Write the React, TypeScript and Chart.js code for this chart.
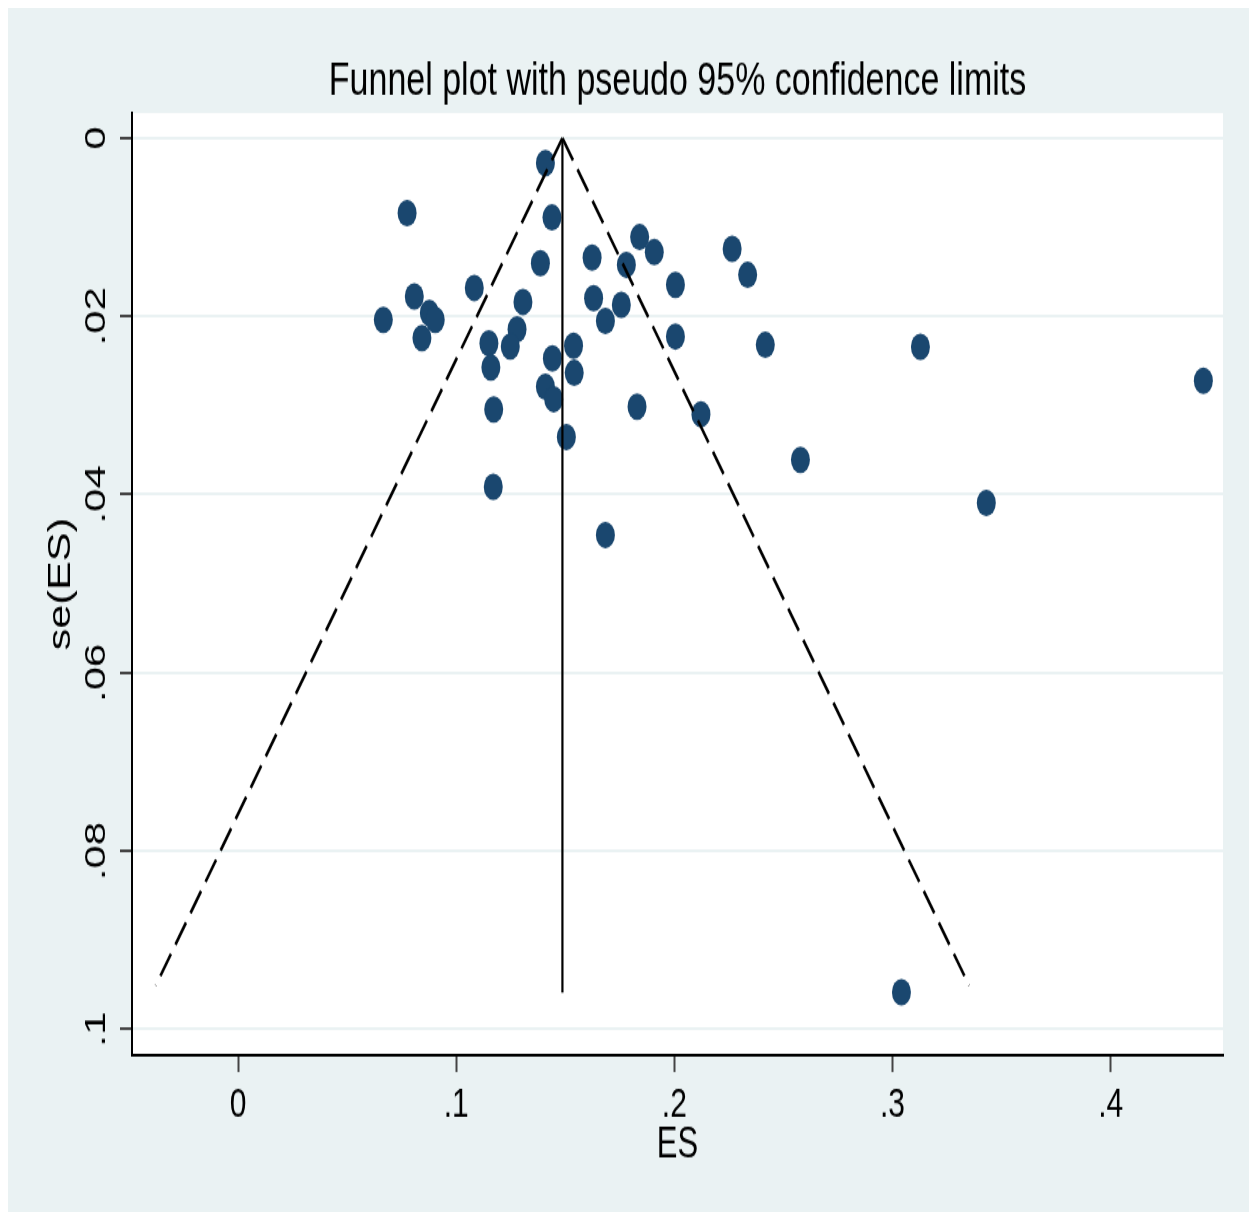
import { useEffect, useRef } from 'react';
import { Chart, registerables } from 'chart.js';

Chart.register(...registerables);

// Study effect sizes (ES) and their standard errors se(ES)
const esValues = [
  0.1409, 0.0775, 0.1439, 0.1841, 0.1908, 0.2265, 0.2336, 0.1623, 0.1780, 0.1386,
  0.2005, 0.1083, 0.0808, 0.1306, 0.1630, 0.1757, 0.0666, 0.0877, 0.0904, 0.1684,
  0.0843, 0.1279, 0.1150, 0.1248, 0.2005, 0.1538, 0.1441, 0.1159, 0.1541, 0.1409,
  0.1447, 0.1172, 0.1829, 0.2122, 0.1505, 0.1170, 0.1684, 0.2417, 0.3128, 0.4425,
  0.2578, 0.3430, 0.3041,
];
const seValues = [
  0.00281, 0.00842, 0.00891, 0.01111, 0.0128, 0.01243, 0.01535, 0.0134, 0.01422, 0.01403,
  0.01647, 0.01681, 0.01778, 0.01838, 0.01796, 0.01872, 0.0204, 0.01961, 0.0204, 0.02051,
  0.02245, 0.02147, 0.02304, 0.0234, 0.02227, 0.02332, 0.02472, 0.02573, 0.02635, 0.02789,
  0.0293, 0.03046, 0.03013, 0.03099, 0.03354, 0.03915, 0.04454, 0.02321, 0.02343, 0.02725,
  0.03612, 0.04095, 0.09585,
];
const pooledES = 0.1487;
const maxSe = 0.0959;
const ciSe = 0.0951;
const xTicks = [0, 0.1, 0.2, 0.3, 0.4];
const yTicks = [0, 0.02, 0.04, 0.06, 0.08, 0.1];
const titleText = 'Funnel plot with pseudo 95% confidence limits';
const xTitle = 'ES';
const yTitle = 'se(ES)';

const FONT = "'Liberation Sans', Arial, sans-serif";
const W = 1249;
const H = 860;
const DISPLAY_H = 1204;

const fmt = (v: number) => {
  if (Math.abs(v) < 1e-9) return '0';
  return String(+v.toFixed(4)).replace(/^0\./, '.').replace(/^-0\./, '-.');
};

const bgPlugin = {
  id: 'bgPlugin',
  beforeDraw(chart: any) {
    const { ctx, chartArea } = chart;
    ctx.save();
    ctx.fillStyle = '#eaf2f3';
    ctx.fillRect(0, 0, chart.width, chart.height);
    ctx.fillStyle = '#ffffff';
    ctx.fillRect(chartArea.left, chartArea.top, chartArea.right - chartArea.left, chartArea.bottom - chartArea.top);
    ctx.restore();
  },
};

export default function App() {
  const ref = useRef<HTMLCanvasElement | null>(null);

  useEffect(() => {
    document.documentElement.style.overflow = 'hidden';
    document.body.style.overflow = 'hidden';
    if (!ref.current) return;
    const points = esValues.map((x, i) => ({ x, y: seValues[i] }));
    const lineStyle = {
      showLine: true,
      pointRadius: 0,
      borderColor: '#000000',
      borderWidth: 2,
      fill: false,
    };
    const chart = new Chart(ref.current, {
      type: 'scatter',
      data: {
        datasets: [
          {
            ...lineStyle,
            label: 'pooled',
            borderWidth: 2.2,
            data: [
              { x: pooledES, y: 0 },
              { x: pooledES, y: maxSe },
            ],
          },
          {
            ...lineStyle,
            label: 'lower',
            borderWidth: 2.6,
            borderDash: [19, 8],
            data: [
              { x: pooledES, y: 0 },
              { x: pooledES - 1.96 * ciSe, y: ciSe },
            ],
          },
          {
            ...lineStyle,
            label: 'upper',
            borderWidth: 2.6,
            borderDash: [19, 8],
            data: [
              { x: pooledES, y: 0 },
              { x: pooledES + 1.96 * ciSe, y: ciSe },
            ],
          },
          {
            label: 'studies',
            data: points,
            pointRadius: 9.5,
            pointHoverRadius: 9.5,
            backgroundColor: '#1a476f',
            borderColor: '#1a476f',
            borderWidth: 0,
          },
        ],
      } as any,
      options: {
        responsive: false,
        devicePixelRatio: 1,
        animation: false,
        layout: { padding: { left: 0, right: 34, top: 0, bottom: 0 } },
        plugins: {
          legend: { display: false },
          tooltip: { enabled: false },
          title: {
            display: true,
            text: titleText,
            fullSize: false,
            color: '#000000',
            font: { family: FONT, size: 34, weight: 'normal' },
            padding: { top: 32.5, bottom: 1.7 },
          },
        },
        scales: {
          x: {
            type: 'linear',
            min: -0.0486,
            max: 0.4515,
            afterBuildTicks: (scale: any) => {
              scale.ticks = xTicks.map((v) => ({ value: v }));
            },
            afterFit: (scale: any) => {
              scale.height = 112;
            },
            ticks: {
              callback: (v: any) => fmt(Number(v)),
              color: '#000000',
              font: { family: FONT, size: 30 },
              padding: 6,
              maxRotation: 0,
              autoSkip: false,
            },
            grid: {
              display: true,
              drawOnChartArea: false,
              drawTicks: true,
              tickLength: 12,
              tickColor: '#444444',
              tickWidth: 2,
            },
            border: { display: true, color: '#000000', width: 2 },
            title: {
              display: true,
              text: xTitle,
              color: '#000000',
              font: { family: FONT, size: 31 },
              padding: { top: 0, bottom: 28.6 },
            },
          },
          y: {
            type: 'linear',
            reverse: true,
            min: -0.00281,
            max: 0.10292,
            afterBuildTicks: (scale: any) => {
              scale.ticks = yTicks.map((v) => ({ value: v }));
            },
            afterFit: (scale: any) => {
              scale.width = 124;
            },
            ticks: {
              callback: (v: any) => fmt(Number(v)),
              color: '#000000',
              font: { family: FONT, size: 30 },
              padding: 2.25,
              minRotation: 90,
              maxRotation: 90,
              crossAlign: 'center',
              autoSkip: false,
            },
            grid: {
              display: true,
              drawOnChartArea: true,
              color: '#eaf2f3',
              lineWidth: 2,
              drawTicks: true,
              tickLength: 12,
              tickColor: '#444444',
              tickWidth: 2,
            },
            border: { display: true, color: '#000000', width: 2 },
            title: {
              display: true,
              text: yTitle,
              color: '#000000',
              font: { family: FONT, size: 31 },
              padding: { top: 34.6, bottom: 0 },
            },
          },
        },
      } as any,
      plugins: [bgPlugin],
    });
    return () => chart.destroy();
  }, []);

  return (
    <div style={{ width: W, height: DISPLAY_H }}>
      <canvas
        ref={ref}
        width={W}
        height={H}
        style={{ width: `${W}px`, height: `${DISPLAY_H}px`, display: 'block' }}
      />
    </div>
  );
}
